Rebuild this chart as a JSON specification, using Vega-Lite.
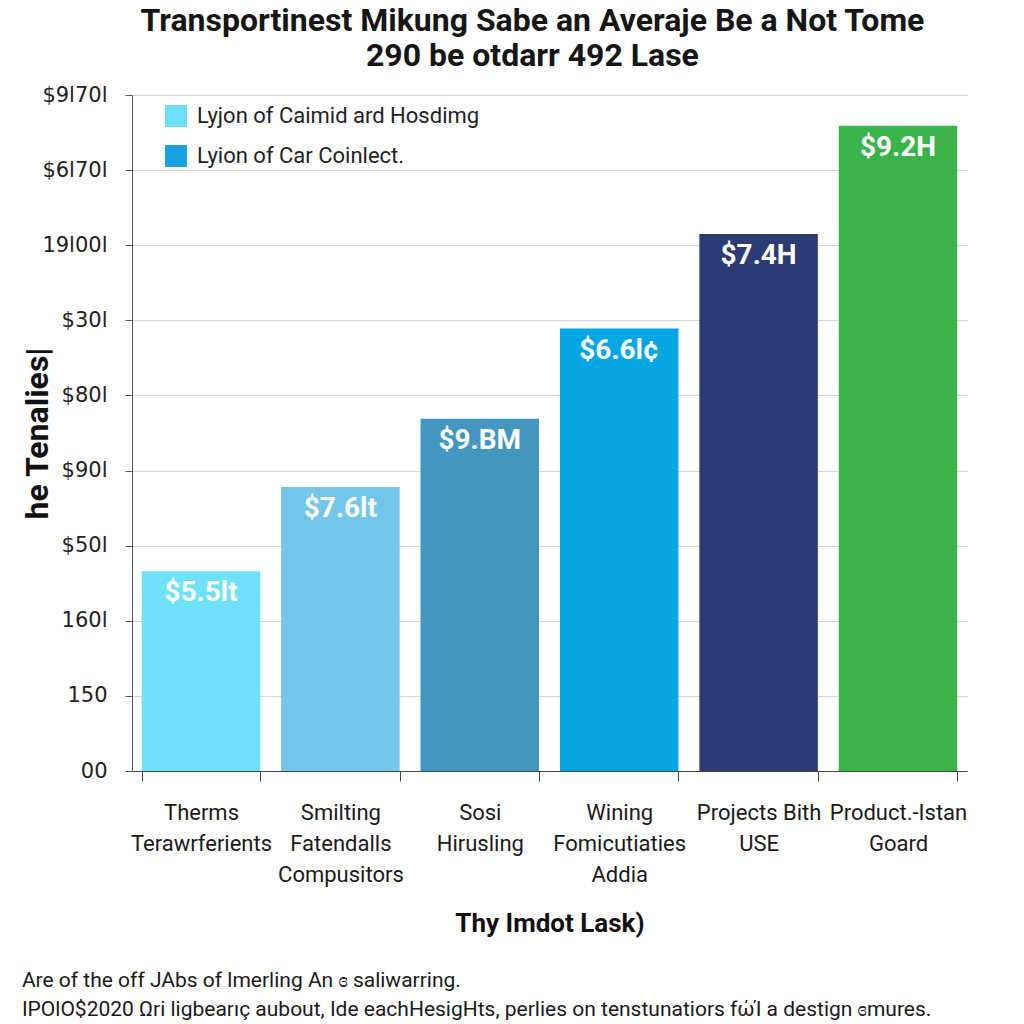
{
  "$schema": "https://vega.github.io/schema/vega-lite/v6.json",
  "background": "#ffffff",
  "padding": {"left": 21, "top": 5, "right": 10, "bottom": 2},
  "title": {
    "text": ["Transportinest Mikung Sabe an Averaje Be a Not Tome", "290 be otdarr 492 Lase"],
    "font": "Roboto",
    "fontSize": 32,
    "fontWeight": "bold",
    "color": "#161616",
    "lineHeight": 35,
    "anchor": "middle",
    "dx": 38,
    "offset": 11
  },
  "datasets": {
    "bars": [
      {"category": "Therms|Terawrferients", "value": 2.66, "label": "$5.5lt"},
      {"category": "Smilting|Fatendalls|Compusitors", "value": 3.78, "label": "$7.6lt"},
      {"category": "Sosi|Hirusling", "value": 4.69, "label": "$9.BM"},
      {"category": "Wining|Fomicutiaties|Addia", "value": 5.89, "label": "$6.6l¢"},
      {"category": "Projects Bith|USE", "value": 7.15, "label": "$7.4H"},
      {"category": "Product.-Istan|Goard", "value": 8.59, "label": "$9.2H"}
    ],
    "legend": [
      {"series": "Lyjon of Caimid ard Hosdimg"},
      {"series": "Lyion of Car Coinlect."}
    ]
  },
  "vconcat": [
    {
      "width": 835,
      "height": 676,
      "title": {
        "text": ["Are of the off JAbs of lmerling An ɞ saliwarring.", "IPOlO$2020 Ωri ligbearıç aubout, Ide eachHesigHts, perlies on tenstunatiors fώΊ a destign ɞmures."],
        "orient": "bottom",
        "anchor": "start",
        "frame": "bounds",
        "font": "Roboto",
        "fontSize": 21,
        "fontWeight": "normal",
        "lineHeight": 29,
        "color": "#1a1a1a",
        "offset": 34
      },
      "layer": [
        {
          "data": {"name": "bars"},
          "mark": {"type": "bar"},
          "encoding": {
            "x": {
              "field": "category",
              "type": "nominal",
              "sort": null,
              "scale": {"paddingInner": 0.15, "paddingOuter": 0.07},
              "axis": {
                "title": "Thy Imdot Lask)",
                "titleFont": "Roboto",
                "titleFontSize": 26,
                "titleFontWeight": "bold",
                "titleColor": "#111111",
                "titlePadding": 25,
                "labelExpr": "split(datum.label, '|')",
                "labelAngle": 0,
                "labelFont": "Roboto",
                "labelFontSize": 22,
                "labelColor": "#1a1a1a",
                "labelLineHeight": 31,
                "labelPadding": 21,
                "labelLimit": 0,
                "tickBand": "extent",
                "tickSize": 10,
                "tickColor": "#444444",
                "domainColor": "#444444",
                "grid": false
              }
            },
            "y": {
              "field": "value",
              "type": "quantitative",
              "scale": {"domain": [0, 9], "nice": false},
              "axis": {
                "title": "he Tenalies|",
                "titleFont": "Roboto",
                "titleFontSize": 32,
                "titleFontWeight": "bold",
                "titleColor": "#111111",
                "titlePadding": -13,
                "values": [0, 1, 2, 3, 4, 5, 6, 7, 8, 9],
                "labelExpr": "['00','150','160l','$50l','$90l','$80l','$30l','19l00l','$6l70l','$9l70l'][datum.value]",
                "labelFont": "DejaVu Sans",
                "labelFontSize": 21,
                "labelColor": "#222222",
                "labelPadding": 18,
                "tickSize": 7,
                "tickColor": "#555555",
                "domainColor": "#555555",
                "gridColor": "#d4d4d4",
                "grid": true
              }
            },
            "color": {
              "field": "category",
              "type": "nominal",
              "scale": {
                "domain": ["Therms|Terawrferients", "Smilting|Fatendalls|Compusitors", "Sosi|Hirusling", "Wining|Fomicutiaties|Addia", "Projects Bith|USE", "Product.-Istan|Goard"],
                "range": ["#6de2f9", "#73c5ea", "#4296c0", "#05a6e3", "#2c3b73", "#3ab34a"]
              },
              "legend": null
            }
          }
        },
        {
          "data": {"name": "bars"},
          "mark": {"type": "text", "color": "#ffffff", "font": "Roboto", "fontWeight": "bold", "fontSize": 28, "baseline": "middle", "dy": 22},
          "encoding": {
            "x": {"field": "category", "type": "nominal", "sort": null},
            "y": {"field": "value", "type": "quantitative"},
            "text": {"field": "label"}
          }
        },
        {
          "data": {"name": "legend"},
          "mark": {"type": "square", "opacity": 0},
          "encoding": {
            "color": {
              "field": "series",
              "type": "nominal",
              "sort": null,
              "scale": {"domain": ["Lyjon of Caimid ard Hosdimg", "Lyion of Car Coinlect."], "range": ["#6de0f8", "#1aa0e0"]},
              "legend": {
                "title": null,
                "orient": "none",
                "legendX": 33,
                "legendY": 10,
                "symbolType": "square",
                "symbolSize": 484,
                "symbolOpacity": 1,
                "symbolStrokeWidth": 0,
                "labelFont": "Roboto",
                "labelFontSize": 22,
                "labelColor": "#222222",
                "labelOffset": 10,
                "labelLimit": 0,
                "rowPadding": 18
              }
            }
          }
        }
      ],
      "resolve": {"scale": {"color": "independent"}}
    }
  ],
  "config": {"view": {"stroke": null}, "concat": {"spacing": 0}}
}
